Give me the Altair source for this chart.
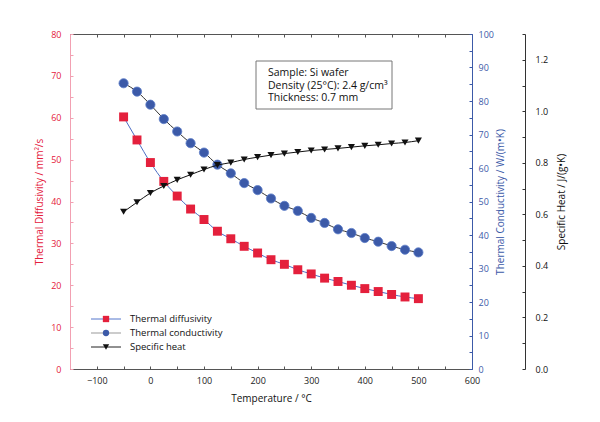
import altair as alt
import pandas as pd

temps = list(range(-50, 501, 25))
diffusivity = [60.2, 54.7, 49.3, 44.8, 41.3, 38.2, 35.7, 32.9, 31.1, 29.3, 27.7, 26.1,
               25.0, 23.7, 22.7, 21.7, 20.9, 20.0, 19.2, 18.5, 17.8, 17.2, 16.8]
conductivity = [85.3, 82.8, 78.9, 74.6, 70.9, 67.4, 64.6, 61.0, 58.4, 55.5, 53.4, 50.9,
                48.7, 47.2, 45.1, 43.6, 41.7, 40.6, 39.1, 38.0, 36.7, 35.6, 34.8]
specific_heat = [0.610, 0.647, 0.683, 0.710, 0.734, 0.754, 0.774, 0.791, 0.801, 0.813, 0.822,
                 0.830, 0.836, 0.842, 0.848, 0.852, 0.856, 0.861, 0.866, 0.870, 0.875, 0.879, 0.886]

x_ticks = list(range(-150, 601, 50))
left_ticks = list(range(0, 81, 5))
right_ticks = list(range(0, 101, 5))
sh_ticks = [round(i * 0.1, 1) for i in range(0, 14)]

legend_names = ["Thermal diffusivity", "Thermal conductivity", "Specific heat"]
info_lines = ["Sample: Si wafer", "Density (25°C): 2.4 g/cm³", "Thickness: 0.7 mm"]

FONT = "Open Sans"
RED = "#e4203c"
BLUE = "#3c5aa8"
PINK = "#f2a0b2"
GREY = "#555555"
W, H = 402, 335
OFF3 = 53

df = pd.DataFrame({"T": temps, "D": diffusivity, "K": conductivity, "C": specific_heat})
base = alt.Chart(df)

xscale = alt.Scale(domain=[-150, 600], nice=False, zero=False)
sD = alt.Scale(domain=[0, 80], nice=False)
sK = alt.Scale(domain=[0, 100], nice=False)
sC = alt.Scale(domain=[0, 1.3], nice=False)
x_none = alt.X("T:Q", scale=xscale, axis=None)

txt = dict(labelFont=FONT, labelFontSize=9, titleFont=FONT, titleFontSize=10,
           titleFontWeight="normal", grid=False)


def tick_axis(orient, offset, values, color, domain=False):
    return alt.Axis(orient=orient, offset=offset, values=values, labels=False, title=None,
                    grid=False, domain=domain, domainColor=color, tickColor=color, tickSize=3)


# ---- axes layers (invisible marks carrying axes) ----
x_axis = base.mark_point(opacity=0).encode(
    x=alt.X("T:Q", scale=xscale, axis=alt.Axis(
        orient="bottom", values=x_ticks, labelExpr="datum.value % 100 == 0 ? datum.label : ''",
        title="Temperature / °C", domainColor=GREY, tickSize=0, labelPadding=7,
        titlePadding=8, labelColor="#222", titleColor="#111", labelFlush=False, **txt)),
    y=alt.Y("D:Q", scale=sD, axis=None))
x_in_ticks = base.mark_point(opacity=0).encode(
    x=alt.X("T:Q", scale=xscale, axis=tick_axis("top", -H, x_ticks, GREY)),
    y=alt.Y("D:Q", scale=sD, axis=None))
top_border = base.mark_point(opacity=0).encode(
    x=alt.X("T:Q", scale=xscale, axis=tick_axis("bottom", -H, x_ticks, GREY, domain=True)),
    y=alt.Y("D:Q", scale=sD, axis=None))

# Diffusivity (left axis)
yD = alt.Y("D:Q", scale=sD, axis=alt.Axis(
    orient="left", values=left_ticks, labelExpr="datum.value % 10 == 0 ? datum.label : ''",
    title="Thermal Diffusivity / mm²/s", domainColor=PINK, tickSize=0, labelPadding=9,
    titlePadding=6, labelColor=RED, titleColor=RED, **txt))
layerD = alt.layer(
    base.mark_line(color="#4a6cc4", strokeWidth=1, interpolate="monotone").encode(x=x_none, y=yD),
    base.mark_point(shape="square", filled=True, size=80, color=RED, opacity=1).encode(x=x_none, y=yD),
)
D_ticks = base.mark_point(opacity=0).encode(
    x=x_none, y=alt.Y("D:Q", scale=sD, axis=tick_axis("right", -W, left_ticks, PINK)))

# Conductivity (right axis)
yK = alt.Y("K:Q", scale=sK, axis=alt.Axis(
    orient="right", values=right_ticks, labelExpr="datum.value % 10 == 0 ? datum.label : ''",
    title="Thermal Conductivity / W/(m•K)", domainColor=BLUE, tickSize=0, labelPadding=6,
    titlePadding=2, titleAngle=270, titleBaseline="top", labelColor=BLUE, titleColor=BLUE, **txt))
layerK = alt.layer(
    base.mark_line(color="#333", strokeWidth=1, interpolate="monotone").encode(x=x_none, y=yK),
    base.mark_point(shape="circle", filled=True, size=85, color=BLUE, opacity=1,
                    stroke="#5c7cc8", strokeWidth=0.8).encode(x=x_none, y=yK),
)
K_ticks = base.mark_point(opacity=0).encode(
    x=x_none, y=alt.Y("K:Q", scale=sK, axis=tick_axis("left", -W, right_ticks, BLUE)))

# Specific heat (far right axis)
yC = alt.Y("C:Q", scale=sC, axis=alt.Axis(
    orient="right", offset=OFF3, values=sh_ticks,
    labelExpr="round(datum.value*10) % 2 == 0 ? format(datum.value, '.1f') : ''",
    title="Specific Heat / J/(g•K)", domainColor="#333", tickSize=0, labelPadding=10,
    titlePadding=9, titleAngle=270, titleBaseline="top", labelColor="#111", titleColor="#111", **txt))
layerC = alt.layer(
    base.mark_line(color="#111", strokeWidth=1, interpolate="monotone").encode(x=x_none, y=yC),
    base.mark_point(shape="triangle-down", filled=True, size=50, color="#111", opacity=1).encode(x=x_none, y=yC),
)
C_ticks = base.mark_point(opacity=0).encode(
    x=x_none, y=alt.Y("C:Q", scale=sC, axis=tick_axis("left", -(W + OFF3), sh_ticks, "#333")))

# Info box
box = alt.Chart(pd.DataFrame({"a": [0]})).mark_rect(
    fill="white", stroke="#777", strokeWidth=1).encode(
    x=alt.value(186), x2=alt.value(322), y=alt.value(27), y2=alt.value(75))
info_df = pd.DataFrame({"txt": info_lines, "i": [0, 1, 2]})
info = alt.Chart(info_df).mark_text(
    align="left", baseline="middle", font=FONT, fontSize=10.5, color="#111").encode(
    x=alt.value(198),
    y=alt.Y("i:Q", axis=None, scale=alt.Scale(domain=[0, 2], range=[39, 64])),
    text="txt:N")

# Legend
leg_df = pd.DataFrame({"name": legend_names, "i": [0, 1, 2],
                       "lc": ["#5577cc", "#999999", "#222222"],
                       "mc": [RED, BLUE, "#111111"],
                       "shape": ["square", "circle", "triangle-down"]})
leg_y = alt.Y("i:Q", axis=None, scale=alt.Scale(domain=[0, 2], range=[285, 313]))
leg_lines = alt.Chart(leg_df).mark_rule(strokeWidth=1).encode(
    x=alt.value(21), x2=alt.value(51), y=leg_y,
    color=alt.Color("lc:N", scale=None))
leg_pts = alt.Chart(leg_df).mark_point(filled=True, size=40, opacity=1).encode(
    x=alt.value(36), y=leg_y,
    color=alt.Color("mc:N", scale=None),
    shape=alt.Shape("shape:N", scale=None))
leg_txt = alt.Chart(leg_df).mark_text(
    align="left", baseline="middle", font=FONT, fontSize=9.5, color="#111").encode(
    x=alt.value(60), y=leg_y, text="name:N")

chart = alt.layer(
    x_axis, x_in_ticks, top_border, D_ticks, K_ticks, C_ticks,
    layerD, layerK, layerC, box, info, leg_lines, leg_pts, leg_txt
).resolve_scale(y="independent").resolve_axis(x="independent", y="independent").properties(
    width=W, height=H,
    autosize=alt.AutoSizeParams(type="none"),
    padding={"left": 62, "top": 26, "right": 120, "bottom": 45},
).configure_view(stroke=None).configure(background="white")

chart.save("out.html", embed_options={"renderer": "svg", "actions": False})
